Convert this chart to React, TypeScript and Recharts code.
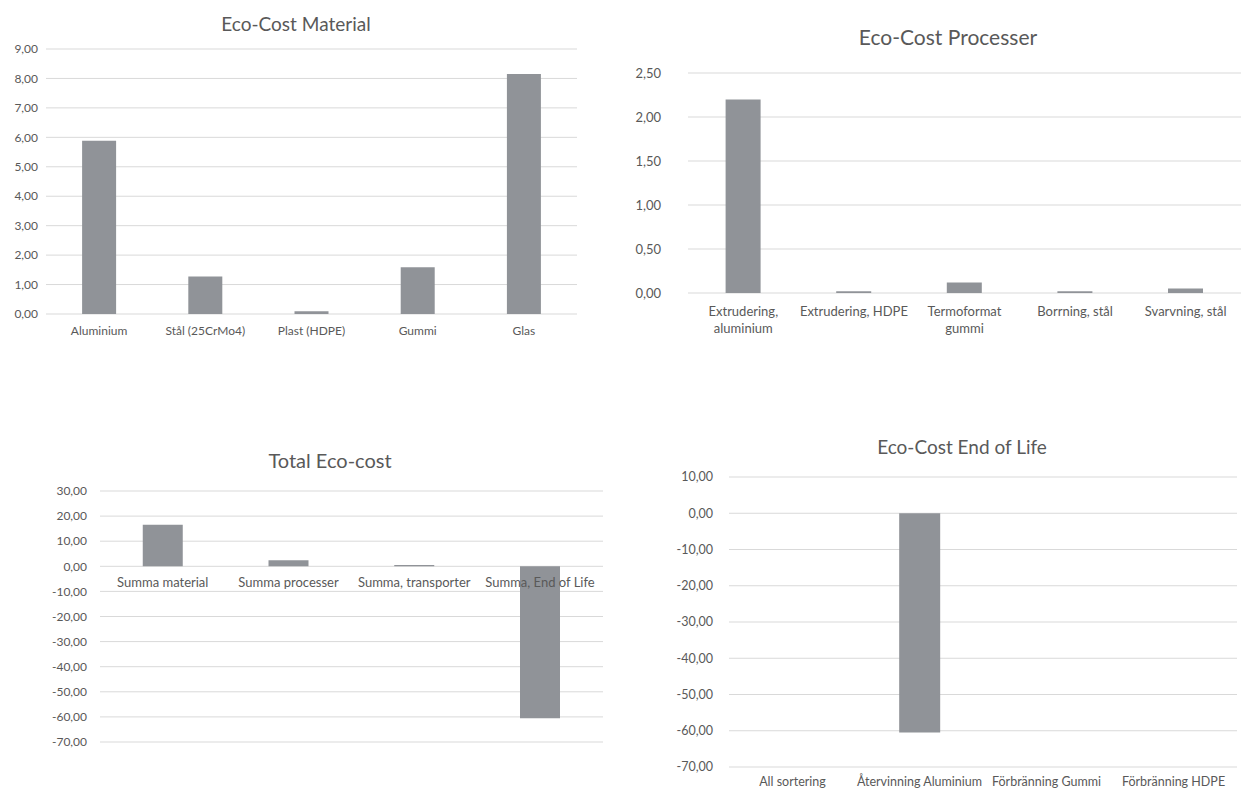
import React from 'react';
import { BarChart, Bar, XAxis, YAxis, CartesianGrid, LabelList } from 'recharts';

// ---------- data ----------
const materialCategories = ['Aluminium', 'Stål (25CrMo4)', 'Plast (HDPE)', 'Gummi', 'Glas'];
const materialValues = [5.88, 1.27, 0.09, 1.59, 8.15];
const materialTicks = [0, 1, 2, 3, 4, 5, 6, 7, 8, 9];

const processCategories = ['Extrudering,\naluminium', 'Extrudering, HDPE', 'Termoformat\ngummi', 'Borrning, stål', 'Svarvning, stål'];
const processValues = [2.2, 0.02, 0.12, 0.02, 0.05];
const processTicks = [0, 0.5, 1, 1.5, 2, 2.5];

const totalCategories = ['Summa material', 'Summa processer', 'Summa, transporter', 'Summa, End of Life'];
const totalValues = [16.6, 2.4, 0.5, -60.5];
const totalTicks = [-70, -60, -50, -40, -30, -20, -10, 0, 10, 20, 30];

const eolCategories = ['All sortering', 'Återvinning Aluminium', 'Förbränning Gummi', 'Förbränning HDPE'];
const eolValues = [0, -60.5, 0, 0];
const eolTicks = [-70, -60, -50, -40, -30, -20, -10, 0, 10];

const materialData = materialCategories.map((name, i) => ({ name, value: materialValues[i] }));
const processData = processCategories.map((name, i) => ({ name, value: processValues[i] }));
const totalData = totalCategories.map((name, i) => ({ name, value: totalValues[i] }));
const eolData = eolCategories.map((name, i) => ({ name, value: eolValues[i] }));

// ---------- styles ----------
const FONT = 'Lato, "Open Sans", sans-serif';
const TEXT = '#595959';
const GRID = '#d9d9d9';
const BAR = '#909398';
const fmt = (v: number) => v.toFixed(2).replace('.', ',');
const tickStyle = (size: number) => ({ fontSize: size, fill: TEXT, fontFamily: FONT });

function makeWrapTick(size: number, lineGap: number) {
  return function WrapTick(props: any) {
    const { x, y, payload } = props;
    const lines = String(payload.value).split('\n');
    return (
      <text x={x} y={y} textAnchor="middle" fill={TEXT} fontSize={size} fontFamily={FONT}>
        {lines.map((l, i) => (
          <tspan key={i} x={x} dy={i === 0 ? '0.71em' : lineGap}>
            {l}
          </tspan>
        ))}
      </text>
    );
  };
}

const Tick12 = makeWrapTick(12, 16);
const Tick13 = makeWrapTick(13, 17);
const Tick125 = makeWrapTick(12.5, 16);

function ZeroLabel(props: any) {
  const vb = props.viewBox ?? props;
  const { x, y, width, height } = vb;
  const index = props.index;
  const v = totalValues[index];
  let base: number;
  if (v < 0) base = height < 0 ? y + height : y;
  else base = y + height;
  return (
    <text x={x + width / 2} y={base + 11} dy="0.71em" textAnchor="middle" fill={TEXT} fontSize={13} fontFamily={FONT}>
      {totalCategories[index]}
    </text>
  );
}

function Title({ text, cx, cy, size }: { text: string; cx: number; cy: number; size: number }) {
  return (
    <div
      style={{
        position: 'absolute',
        left: cx - 200,
        width: 400,
        top: cy - (size * 1.2) / 2,
        lineHeight: `${size * 1.2}px`,
        fontSize: size,
        fontFamily: FONT,
        color: TEXT,
        textAlign: 'center',
        whiteSpace: 'nowrap',
      }}
    >
      {text}
    </div>
  );
}

export default function App() {
  return (
    <div
      style={{
        position: 'absolute',
        left: 0,
        top: 0,
        width: 1243,
        height: 789,
        overflow: 'hidden',
        background: '#ffffff',
      }}
    >
      {/* Chart 1: Eco-Cost Material */}
      <Title text="Eco-Cost Material" cx={296} cy={24} size={19} />
      <div style={{ position: 'absolute', left: 0, top: 0 }}>
        <BarChart width={600} height={345} data={materialData} margin={{ top: 49, right: 23, bottom: 0, left: 0 }} barCategoryGap="34%">
          <CartesianGrid vertical={false} stroke={GRID} />
          <XAxis dataKey="name" interval={0} tickLine={false} axisLine={false} tickSize={0} tickMargin={12} height={31} tick={<Tick12 />} />
          <YAxis type="number" domain={[0, 9]} ticks={materialTicks} tickFormatter={fmt} width={46} tickLine={false} axisLine={false} tickSize={0} tickMargin={8} tick={tickStyle(12)} />
          <Bar dataKey="value" fill={BAR} isAnimationActive={false} />
        </BarChart>
      </div>

      {/* Chart 2: Eco-Cost Processer */}
      <Title text="Eco-Cost Processer" cx={948} cy={37} size={21} />
      <div style={{ position: 'absolute', left: 620, top: 0 }}>
        <BarChart width={623} height={345} data={processData} margin={{ top: 73, right: 2, bottom: 0, left: 0 }} barCategoryGap="34%">
          <CartesianGrid vertical={false} stroke={GRID} />
          <XAxis dataKey="name" interval={0} tickLine={false} axisLine={false} tickSize={0} tickMargin={14} height={52} tick={<Tick13 />} />
          <YAxis type="number" domain={[0, 2.5]} ticks={processTicks} tickFormatter={fmt} width={68} tickLine={false} axisLine={false} tickSize={0} tickMargin={27} tick={tickStyle(13)} />
          <Bar dataKey="value" fill={BAR} isAnimationActive={false} />
        </BarChart>
      </div>

      {/* Chart 3: Total Eco-cost */}
      <Title text="Total Eco-cost" cx={330} cy={460} size={20} />
      <div style={{ position: 'absolute', left: 0, top: 430 }}>
        <BarChart width={620} height={330} data={totalData} margin={{ top: 61, right: 17, bottom: 18, left: 0 }} barCategoryGap="34%">
          <CartesianGrid vertical={false} stroke={GRID} />
          <XAxis dataKey="name" hide />
          <YAxis type="number" domain={[-70, 30]} ticks={totalTicks} tickFormatter={fmt} width={100} tickLine={false} axisLine={false} tickSize={0} tickMargin={13} tick={tickStyle(12)} />
          <Bar dataKey="value" fill={BAR} isAnimationActive={false}>
            <LabelList dataKey="name" content={ZeroLabel} />
          </Bar>
        </BarChart>
      </div>

      {/* Chart 4: Eco-Cost End of Life */}
      <Title text="Eco-Cost End of Life" cx={962} cy={447} size={19} />
      <div style={{ position: 'absolute', left: 620, top: 430 }}>
        <BarChart width={623} height={359} data={eolData} margin={{ top: 47, right: 6, bottom: 0, left: 0 }} barCategoryGap="34%">
          <CartesianGrid vertical={false} stroke={GRID} />
          <XAxis dataKey="name" interval={0} tickLine={false} axisLine={false} tickSize={0} tickMargin={10} height={22} tick={<Tick125 />} />
          <YAxis type="number" domain={[-70, 10]} ticks={eolTicks} tickFormatter={fmt} width={109} tickLine={false} axisLine={false} tickSize={0} tickMargin={16} tick={tickStyle(12.5)} />
          <Bar dataKey="value" fill={BAR} isAnimationActive={false} />
        </BarChart>
      </div>
    </div>
  );
}
